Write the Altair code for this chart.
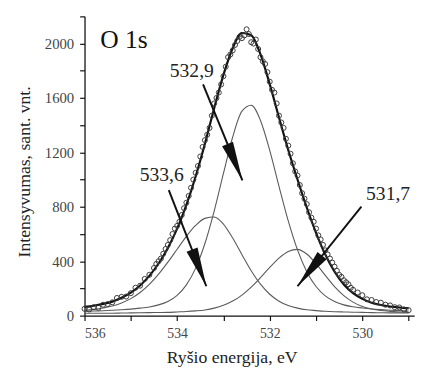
import math
import altair as alt
import pandas as pd

# ---------------- data ----------------
energy_grid = [536.0, 535.8, 535.6, 535.4, 535.2, 535.0, 534.8, 534.6, 534.4, 534.2,
               534.0, 533.8, 533.6, 533.4, 533.2, 533.0, 532.8, 532.6, 532.4, 532.2,
               532.0, 531.8, 531.6, 531.4, 531.2, 531.0, 530.8, 530.6, 530.4, 530.2,
               530.0, 529.8, 529.6, 529.4, 529.2, 529.0]
total_fit = [64, 73, 86, 103, 131, 169, 222, 292, 383, 497,
             640, 815, 1023, 1263, 1525, 1770, 1966, 2078, 2062, 1921,
             1702, 1456, 1218, 1001, 795, 609, 449, 323, 229, 165,
             123, 95, 78, 67, 60, 53]
comp_533_6 = [40, 46, 56, 70, 93, 125, 170, 230, 305, 393,
              488, 583, 663, 715, 725, 673, 570, 448, 330, 231,
              157, 106, 74, 55, 43, 37, 32, 29, 27, 25,
              24, 22, 21, 20, 20, 19]
comp_532_9 = [31, 34, 36, 39, 43, 48, 55, 64, 79, 104,
              149, 226, 349, 530, 769, 1045, 1313, 1503, 1547, 1435,
              1215, 951, 696, 483, 323, 214, 145, 104, 79, 65,
              56, 49, 44, 40, 37, 34]
comp_531_7 = [17, 17, 18, 18, 19, 20, 21, 22, 23, 24,
              27, 30, 35, 42, 55, 76, 107, 151, 209, 279,
              354, 423, 472, 487, 453, 382, 296, 214, 147, 99,
              67, 48, 37, 31, 27, 24]

meas_energy = [536.0, 535.9, 535.8, 535.7, 535.6, 535.5, 535.4, 535.3, 535.2, 535.1,
               535.0, 534.9, 534.8, 534.7, 534.6, 534.5, 534.4, 534.3, 534.2, 534.1,
               534.0, 533.9, 533.8, 533.7, 533.6, 533.5, 533.4, 533.3, 533.2, 533.1,
               533.0, 532.9, 532.8, 532.7, 532.6, 532.5, 532.4, 532.3, 532.2, 532.1,
               532.0, 531.9, 531.8, 531.7, 531.6, 531.5, 531.4, 531.3, 531.2, 531.1,
               531.0, 530.9, 530.8, 530.7, 530.6, 530.5, 530.4, 530.3, 530.2, 530.1,
               530.0, 529.9, 529.8, 529.7, 529.6, 529.5, 529.4, 529.3, 529.2, 529.1,
               529.0]
meas_counts = [50, 45, 62, 58, 80, 85, 98, 130, 138, 140,
               165, 205, 220, 270, 300, 350, 400, 455, 520, 600,
               660, 740, 830, 940, 1050, 1170, 1290, 1380, 1560, 1640,
               1760, 1900, 1950, 2020, 2040, 2105, 2010, 2030, 1900, 1850,
               1720, 1640, 1470, 1380, 1250, 1120, 1030, 900, 820, 720,
               640, 560, 480, 420, 360, 300, 260, 230, 190, 170,
               150, 120, 115, 100, 95, 80, 75, 62, 60, 45,
               40]
meas_energy_mid = [534.45, 534.35, 534.25, 534.15, 534.05, 533.95, 533.85, 533.75, 533.65, 533.55,
                   533.45, 533.35, 533.25, 533.15, 533.05, 532.95, 532.85, 532.75, 532.65, 532.55,
                   532.45, 532.35, 532.25, 532.15, 532.05, 531.95, 531.85, 531.75, 531.65, 531.55,
                   531.45, 531.35, 531.25, 531.15, 531.05, 530.95, 530.85, 530.75, 530.65, 530.55,
                   530.45, 530.35, 530.25]
meas_counts_mid = [380, 420, 490, 555, 640, 690, 790, 880, 1000, 1100,
                   1240, 1330, 1470, 1600, 1700, 1830, 1920, 1990, 2050, 2060,
                   2070, 2000, 1960, 1870, 1790, 1660, 1560, 1420, 1300, 1190,
                   1060, 960, 860, 760, 690, 590, 520, 450, 390, 330,
                   285, 245, 205]

peak_labels = ["532,9", "533,6", "531,7"]
label_energy = [534.16, 534.81, 529.92]
label_counts = [1753, 988, 851]
arrow_from_energy = [533.44, 534.18, 530.02]
arrow_from_counts = [1700, 923, 801]
arrow_to_energy = [532.59, 533.37, 531.40]
arrow_to_counts = [994, 216, 216]

x_ticks = [536, 535, 534, 533, 532, 531, 530, 529]
y_ticks = [0, 200, 400, 600, 800, 1000, 1200, 1400, 1600, 1800, 2000, 2200]

# ---------------- layout ----------------
W, H = 336, 305
X_MIN, X_MAX = 528.88, 536.0
Y_MAX = 2200
SERIF = "Liberation Serif"

px_per_ev = W / (X_MAX - X_MIN)
px_per_count = H / Y_MAX
angles = []
for e0, c0, e1, c1 in zip(arrow_from_energy, arrow_from_counts, arrow_to_energy, arrow_to_counts):
    dx = (e0 - e1) * px_per_ev
    dy = (c0 - c1) * px_per_count
    angles.append(math.degrees(math.atan2(dx, -dy)) % 360)

comp_df = pd.concat([
    pd.DataFrame({"E": energy_grid, "I": comp_533_6, "s": "533.6"}),
    pd.DataFrame({"E": energy_grid, "I": comp_532_9, "s": "532.9"}),
    pd.DataFrame({"E": energy_grid, "I": comp_531_7, "s": "531.7"}),
])
total_df = pd.DataFrame({"E": energy_grid, "I": total_fit})
meas_df = pd.DataFrame({"E": meas_energy + meas_energy_mid, "I": meas_counts + meas_counts_mid})
arrow_df = pd.DataFrame({"E": arrow_from_energy, "I": arrow_from_counts,
                         "E2": arrow_to_energy, "I2": arrow_to_counts})
head_df = pd.DataFrame({"E": arrow_to_energy, "I": arrow_to_counts, "ang": angles})
label_df = pd.DataFrame({"E": label_energy, "I": label_counts, "t": peak_labels})
title_df = pd.DataFrame({"E": [535.66], "I": [1970], "t": ["O 1s"]})

x_enc = alt.X("E:Q",
              scale=alt.Scale(domain=[X_MIN, X_MAX], reverse=True, nice=False, zero=False),
              axis=alt.Axis(values=x_ticks, format="d",
                            labelExpr="datum.value % 2 == 0 ? datum.label : ''",
                            title="Ryšio energija, eV", titleX=150, titleY=48,
                            titleBaseline="alphabetic", titleAlign="center",
                            tickSize=5, labelPadding=6, labelFontSize=14,
                            grid=False))
y_enc = alt.Y("I:Q",
              scale=alt.Scale(domain=[0, Y_MAX], nice=False, zero=True),
              axis=alt.Axis(values=y_ticks, format="d",
                            labelExpr="datum.value % 400 == 0 ? datum.label : ''",
                            title="Intensyvumas, sant. vnt.", titleX=-61, titleY=158,
                            titleBaseline="middle", titleAlign="center", titleAngle=270,
                            tickSize=5, labelPadding=6, labelFontSize=15,
                            grid=False))

components = alt.Chart(comp_df).mark_line(
    color="#5a5a5a", strokeWidth=1.1, interpolate="monotone"
).encode(x=x_enc, y=y_enc, detail="s:N")

total = alt.Chart(total_df).mark_line(
    color="#111111", strokeWidth=2.2, interpolate="monotone"
).encode(x=x_enc, y=y_enc)

points = alt.Chart(meas_df).mark_point(
    shape="circle", filled=False, size=26, stroke="#3a3a3a", strokeWidth=1, opacity=1
).encode(x=x_enc, y=y_enc)

arrows = alt.Chart(arrow_df).mark_rule(color="#111111", strokeWidth=2).encode(
    x=x_enc, y=y_enc, x2="E2:Q", y2="I2:Q")

heads = alt.Chart(head_df).mark_point(
    shape="M0,0L0.3,2L-0.3,2Z", filled=True, fill="#111111", strokeWidth=0,
    size=1600, opacity=1
).encode(x=x_enc, y=y_enc, angle=alt.Angle("ang:Q", scale=None))

labels = alt.Chart(label_df).mark_text(
    align="left", baseline="alphabetic", font=SERIF, fontSize=20, color="#222222"
).encode(x=x_enc, y=y_enc, text="t:N")

o1s = alt.Chart(title_df).mark_text(
    align="left", baseline="alphabetic", font=SERIF, fontSize=26, color="#111111"
).encode(x=x_enc, y=y_enc, text="t:N")

chart = alt.layer(components, total, points, arrows, heads, labels, o1s).properties(
    width=W, height=H,
    autosize="none",
    padding={"left": 78, "top": 5, "right": 10, "bottom": 58},
    background="white",
).configure_view(stroke="transparent").configure_axis(
    domainColor="#111111", domainWidth=1.3, tickColor="#111111", tickWidth=1.2,
    labelFont=SERIF, labelColor="#444444", titleFont=SERIF, titleFontSize=18,
    titleFontWeight="normal", titleColor="#222222"
)

chart.save("out.html", embed_options={"renderer": "svg", "actions": False})
